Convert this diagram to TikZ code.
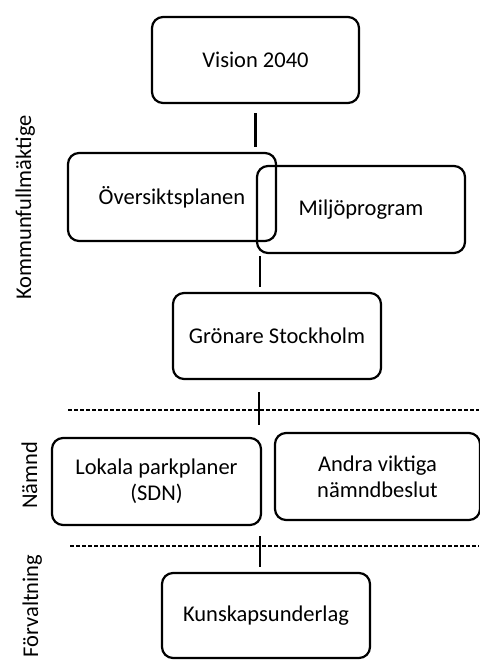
\documentclass[tikz,border=0pt]{standalone}
\usepackage{fontspec}
\setmainfont{Carlito}
\begin{document}
\begin{tikzpicture}[x=1pt,y=-1pt,
  box/.style={draw=black, line width=2.2pt, rounded corners=11pt, align=center,
    inner sep=0pt, font=\fontsize{22.5}{26}\selectfont},
  conn/.style={draw=black, line width=2.2pt},
  sep/.style={draw=black, line width=1.2pt, dash pattern=on 4pt off 2pt},
  side/.style={rotate=90, anchor=base, inner sep=0pt, font=\fontsize{22.5}{26}\selectfont}]
\useasboundingbox (0,0) rectangle (479,660);
\fill[white] (0,0) rectangle (479,660);
% boxes
\node[box, minimum width=207pt, minimum height=86pt] (vision) at (255.5,60) {Vision 2040};
\node[box, minimum width=208pt, minimum height=88pt] (overs) at (172,197) {Översiktsplanen};
\node[box, minimum width=208pt, minimum height=87pt] (miljo) at (361,209.5) {Miljöprogram};
\node[box, minimum width=208pt, minimum height=86pt] (gron) at (277,336) {Grönare Stockholm};
\node[box, minimum width=209pt, minimum height=87pt] (lokala) at (156.5,481.5) {Lokala parkplaner\\(SDN)};
\node[box, minimum width=205pt, minimum height=87pt] (andra) at (377.5,476.5) {Andra viktiga\\nämndbeslut};
\node[box, minimum width=208pt, minimum height=85pt] (kunskap) at (266,615.5) {Kunskapsunderlag};
% side labels
\node[side] (kf) at (31,207.5) {Kommunfullmäktige};
\node[side] (nm) at (37,475.5) {Nämnd};
\node[side] (fv) at (38,606) {Förvaltning};
% separators
\coordinate (s1l) at (68,410);
\coordinate (s1r) at (479,410);
\coordinate (s2l) at (70,546);
\coordinate (s2r) at (479,546);
\draw[sep] (s1l) -- (s1r);
\draw[sep] (s2l) -- (s2r);
% connectors
\draw[conn, shorten <=9pt, shorten >=5pt] (vision.south) -- (vision.south |- overs.north);
\draw[conn, shorten <=2pt, shorten >=5pt] ([xshift=4.5pt]vision.south |- miljo.south) -- ([xshift=4.5pt]vision.south |- gron.north);
\draw[conn, shorten <=12pt, shorten >=12pt] ([xshift=3.5pt]vision.south |- gron.south) -- ([xshift=3.5pt]vision.south |- lokala.north);
\draw[conn, shorten <=10pt, shorten >=5pt] ([xshift=4.5pt]vision.south |- lokala.south) -- ([xshift=4.5pt]vision.south |- kunskap.north);
\end{tikzpicture}
\end{document}
